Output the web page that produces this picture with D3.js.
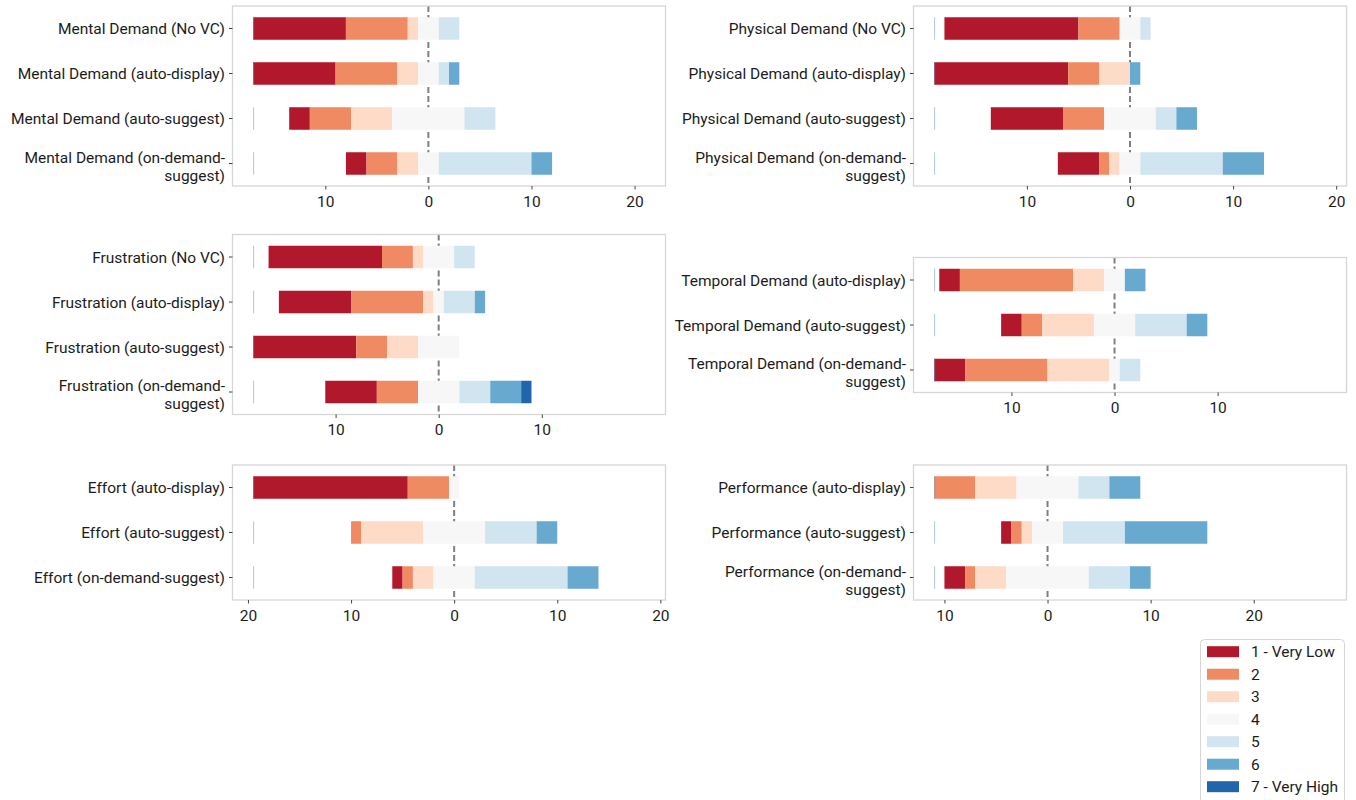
<!DOCTYPE html>
<html>
<head>
<meta charset="utf-8">
<script src="https://cdn.jsdelivr.net/npm/d3@7"></script>
<style>
  body { margin: 0; background: #ffffff; }
  svg { display: block; font-family: Roboto, "Noto Sans", sans-serif; }
</style>
</head>
<body>
<svg id="chart" width="1356" height="800"></svg>
<script>
// ---------- data ----------
const levels = ["1 - Very Low", "2", "3", "4", "5", "6", "7 - Very High"];
const levelColors = ["#b2182b", "#ef8a62", "#fddbc7", "#f7f7f7", "#d1e5f0", "#67a9cf", "#2166ac"];

const mentalLabels = ["Mental Demand (No VC)", "Mental Demand (auto-display)", "Mental Demand (auto-suggest)", "Mental Demand (on-demand-\nsuggest)"];
const mentalCounts = [[9,6,1,2,2,0,0],[8,6,2,2,1,1,0],[2,4,4,7,3,0,0],[2,3,2,2,9,2,0]];

const physicalLabels = ["Physical Demand (No VC)", "Physical Demand (auto-display)", "Physical Demand (auto-suggest)", "Physical Demand (on-demand-\nsuggest)"];
const physicalCounts = [[13,4,0,2,1,0,0],[13,3,3,0,0,1,0],[7,4,0,5,2,2,0],[4,1,1,2,8,4,0]];

const frustrationLabels = ["Frustration (No VC)", "Frustration (auto-display)", "Frustration (auto-suggest)", "Frustration (on-demand-\nsuggest)"];
const frustrationCounts = [[11,3,1,3,2,0,0],[7,7,1,1,3,1,0],[10,3,3,4,0,0,0],[5,4,0,4,3,3,1]];

const temporalLabels = ["Temporal Demand (auto-display)", "Temporal Demand (auto-suggest)", "Temporal Demand (on-demand-\nsuggest)"];
const temporalCounts = [[2,11,3,2,0,2,0],[2,2,5,4,5,2,0],[3,8,6,1,2,0,0]];

const effortLabels = ["Effort (auto-display)", "Effort (auto-suggest)", "Effort (on-demand-suggest)"];
const effortCounts = [[15,4,0,1,0,0,0],[0,1,6,6,5,2,0],[1,1,2,4,9,3,0]];

const performanceLabels = ["Performance (auto-display)", "Performance (auto-suggest)", "Performance (on-demand-\nsuggest)"];
const performanceCounts = [[0,4,4,6,3,3,0],[1,1,1,3,6,8,0],[2,1,3,8,4,2,0]];

// ---------- layout ----------
const panels = [
  { labels: mentalLabels,      counts: mentalCounts,      x0: 232.5, x1: 665.5,  y0: 6,     y1: 186 },
  { labels: physicalLabels,    counts: physicalCounts,    x0: 913.5, x1: 1346.5, y0: 6,     y1: 186 },
  { labels: frustrationLabels, counts: frustrationCounts, x0: 232.5, x1: 665.5,  y0: 234.5, y1: 414.5 },
  { labels: temporalLabels,    counts: temporalCounts,    x0: 913.5, x1: 1346.5, y0: 257.5, y1: 392.5 },
  { labels: effortLabels,      counts: effortCounts,      x0: 232.5, x1: 665.5,  y0: 465,   y1: 600 },
  { labels: performanceLabels, counts: performanceCounts, x0: 913.5, x1: 1346.5, y0: 465,   y1: 600 }
];

const svg = d3.select("#chart");
const FONT = "15.5px";
const textColor = "#1c1c1c";

panels.forEach(p => {
  const rows = p.counts.map((c, i) => {
    const neg = c[0] + c[1] + c[2] + c[3] / 2;
    const pos = c[3] / 2 + c[4] + c[5] + c[6];
    const total = d3.sum(c);
    let acc = -neg;
    const segs = c.map((v, k) => { const s = { k, x0: acc, x1: acc + v, v }; acc += v; return s; });
    return { i, neg, pos, total, segs };
  });
  const maxNeg = d3.max(rows, r => r.neg);
  const maxPos = d3.max(rows, r => r.pos);
  const maxTotal = d3.max(rows, r => r.total);
  const span = 2 * maxTotal;
  const margin = 0.05 * span;

  const x = d3.scaleLinear().domain([-maxNeg - margin, span - maxNeg]).range([p.x0, p.x1]);
  const y = d3.scaleBand().domain(d3.range(rows.length)).range([p.y0, p.y1]).paddingInner(0.5).paddingOuter(0.25);

  const g = svg.append("g");

  // zero line (behind bars)
  g.append("line")
    .attr("x1", x(0)).attr("x2", x(0))
    .attr("y1", p.y0).attr("y2", p.y1)
    .attr("stroke", "#808080").attr("stroke-width", 2)
    .attr("stroke-dasharray", "6,3");

  // bars
  rows.forEach(r => {
    g.selectAll(null).data(r.segs.filter(s => s.v > 0)).enter().append("rect")
      .attr("x", s => x(s.x0))
      .attr("width", s => x(s.x1) - x(s.x0))
      .attr("y", y(r.i))
      .attr("height", y.bandwidth())
      .attr("fill", s => levelColors[s.k]);
    // padding bar edge
    g.append("line")
      .attr("x1", x(-maxNeg) + 0.5).attr("x2", x(-maxNeg) + 0.5)
      .attr("y1", y(r.i)).attr("y2", y(r.i) + y.bandwidth())
      .attr("stroke", "rgba(110,150,190,0.55)").attr("stroke-width", 1);
  });

  // frame
  g.append("rect")
    .attr("x", p.x0).attr("y", p.y0)
    .attr("width", p.x1 - p.x0).attr("height", p.y1 - p.y0)
    .attr("fill", "none").attr("stroke", "#d6d6d6").attr("stroke-width", 1.3);

  // x ticks
  const tickVals = [];
  for (let v = 0; v < maxNeg + 1; v += 10) tickVals.push(-v);
  for (let v = 10; v < maxPos + 10; v += 10) tickVals.push(v);
  const xAxis = d3.axisBottom(x).tickValues(tickVals).tickFormat(d => String(Math.abs(d)))
    .tickSize(3.5).tickPadding(6).tickSizeOuter(0);
  const gx = g.append("g").attr("transform", `translate(0,${p.y1})`).call(xAxis);
  gx.select(".domain").remove();
  gx.selectAll(".tick line").attr("stroke", "#444");
  gx.selectAll(".tick text").attr("font-size", FONT).attr("font-family", "Roboto, sans-serif").attr("fill", textColor);

  // y ticks
  const yAxis = d3.axisLeft(y).tickFormat(i => p.labels[i]).tickSize(3.5).tickPadding(4).tickSizeOuter(0);
  const gy = g.append("g").attr("transform", `translate(${p.x0},0)`).call(yAxis);
  gy.select(".domain").remove();
  gy.selectAll(".tick line").attr("stroke", "#444");
  gy.selectAll(".tick text").each(function(i) {
    const t = d3.select(this);
    const lines = p.labels[i].split("\n");
    t.text(null).attr("font-size", FONT).attr("font-family", "Roboto, sans-serif").attr("fill", textColor).attr("dy", null);
    if (lines.length === 1) {
      t.append("tspan").attr("x", -7.5).attr("dy", "0.36em").text(lines[0]);
    } else {
      t.append("tspan").attr("x", -7.5).attr("dy", -1).text(lines[0]);
      t.append("tspan").attr("x", -7.5).attr("dy", 18).text(lines[1]);
    }
  });
});

// ---------- legend ----------
const lg = svg.append("g");
lg.append("rect")
  .attr("x", 1200.5).attr("y", 639.5).attr("width", 144).attr("height", 200)
  .attr("rx", 4).attr("fill", "#fff").attr("stroke", "#d6d6d6").attr("stroke-width", 1);
const ly = d3.scalePoint().domain(levels).range([651.7, 651.7 + 22.5 * (levels.length - 1)]);
lg.selectAll(".lp").data(levels).enter().append("rect")
  .attr("x", 1207).attr("width", 32)
  .attr("y", d => ly(d) - 5.5).attr("height", 11)
  .attr("fill", (d, i) => levelColors[i]);
lg.selectAll(".lt").data(levels).enter().append("text")
  .attr("x", 1251).attr("y", d => ly(d)).attr("dy", "0.36em")
  .attr("font-size", FONT).attr("fill", textColor)
  .text(d => d);
</script>
</body>
</html>
